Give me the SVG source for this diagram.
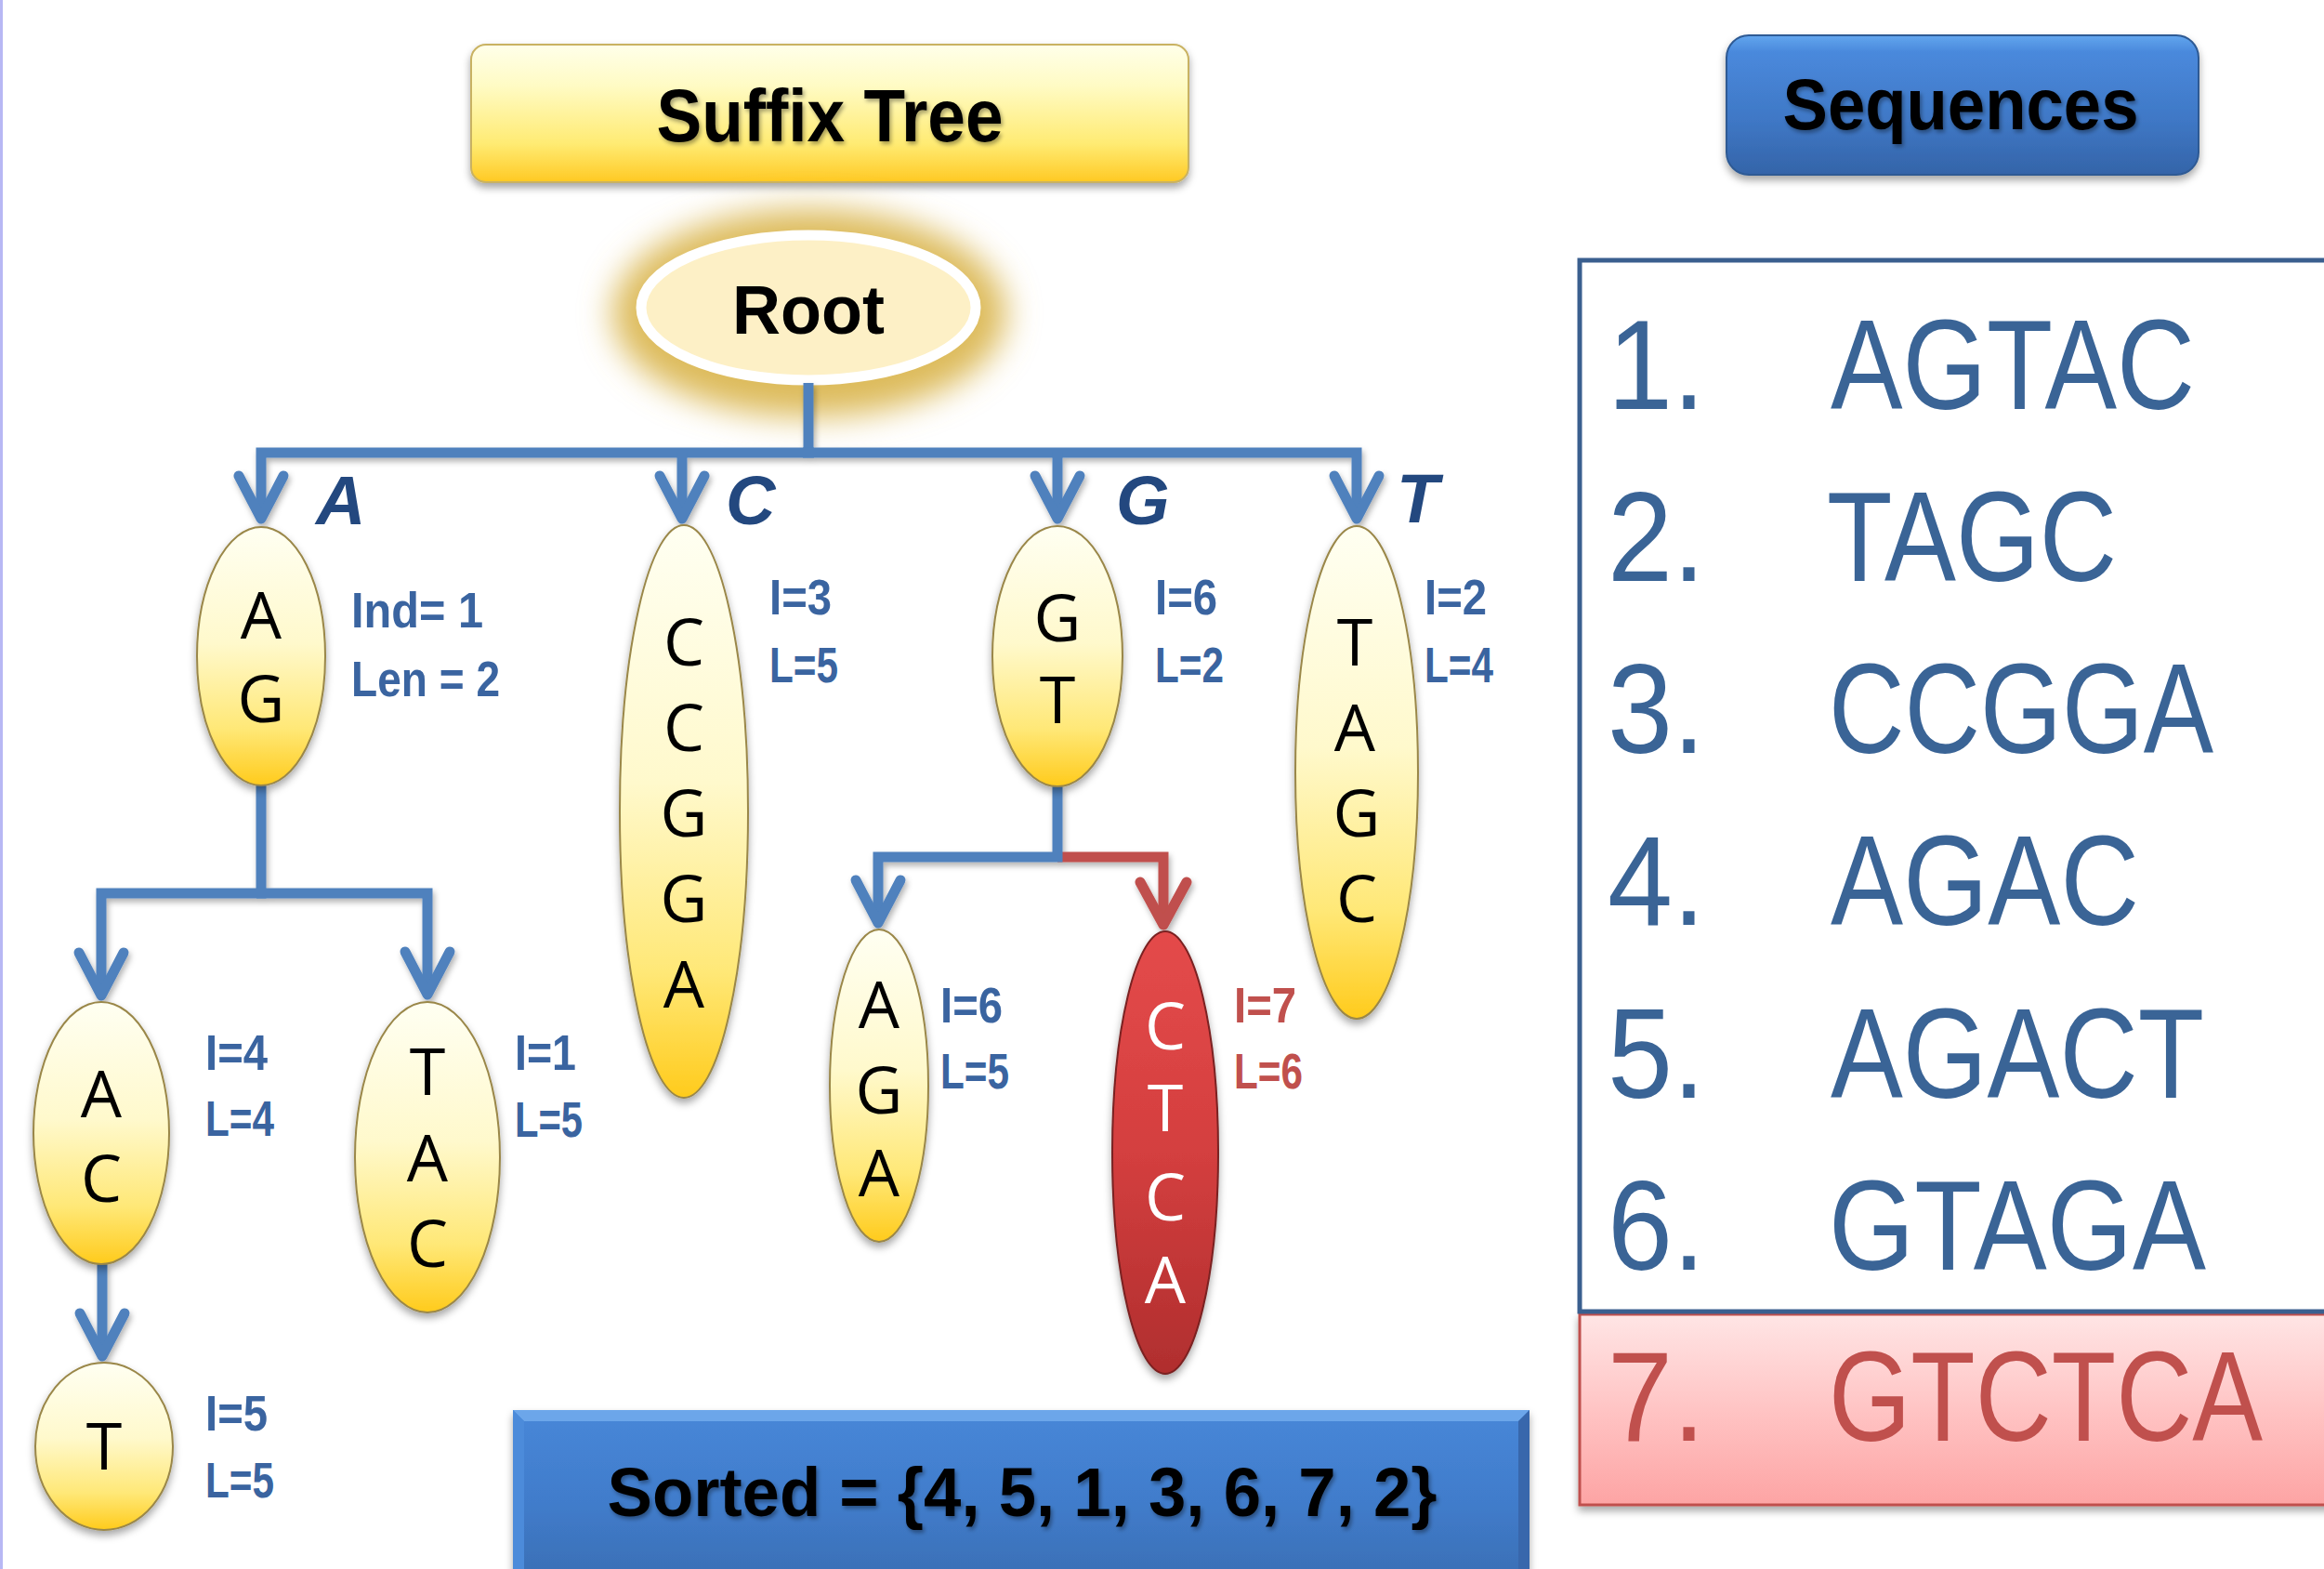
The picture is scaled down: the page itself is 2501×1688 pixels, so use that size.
<svg xmlns="http://www.w3.org/2000/svg" width="2501" height="1688" viewBox="0 0 2501 1688">
<defs>
<linearGradient id="gY" x1="0" y1="0" x2="0" y2="1">
<stop offset="0" stop-color="#FFFFF2"/>
<stop offset="0.45" stop-color="#FFF9CC"/>
<stop offset="0.78" stop-color="#FFE877"/>
<stop offset="1" stop-color="#FFCB1C"/>
</linearGradient>
<linearGradient id="gR" x1="0" y1="0" x2="0" y2="1">
<stop offset="0" stop-color="#E44A4A"/>
<stop offset="0.5" stop-color="#D43F3F"/>
<stop offset="1" stop-color="#B02E2E"/>
</linearGradient>
<linearGradient id="gTitle" x1="0" y1="0" x2="0" y2="1">
<stop offset="0" stop-color="#FFFFEA"/>
<stop offset="0.3" stop-color="#FFFBC4"/>
<stop offset="0.72" stop-color="#FFEB73"/>
<stop offset="1" stop-color="#FFC923"/>
</linearGradient>
<linearGradient id="gBlue" x1="0" y1="0" x2="0" y2="1">
<stop offset="0" stop-color="#62A6EE"/>
<stop offset="0.12" stop-color="#4A89DC"/>
<stop offset="0.6" stop-color="#3F78C6"/>
<stop offset="1" stop-color="#3464A8"/>
</linearGradient>
<linearGradient id="gSort" x1="0" y1="0" x2="0" y2="1">
<stop offset="0" stop-color="#4787D8"/>
<stop offset="0.5" stop-color="#417CCB"/>
<stop offset="1" stop-color="#386CB0"/>
</linearGradient>
<linearGradient id="gPink" x1="0" y1="0" x2="0" y2="1">
<stop offset="0" stop-color="#FFE5E5"/>
<stop offset="0.5" stop-color="#FFC4C4"/>
<stop offset="1" stop-color="#FDA4A4"/>
</linearGradient>
<filter id="shadow" x="-20%" y="-20%" width="140%" height="140%">
<feDropShadow dx="0" dy="5" stdDeviation="4" flood-color="#000" flood-opacity="0.35"/>
</filter>
<filter id="lshadow" x="-5%" y="-5%" width="110%" height="110%">
<feDropShadow dx="2" dy="4" stdDeviation="3" flood-color="#000" flood-opacity="0.3"/>
</filter>
<filter id="glow" x="-50%" y="-50%" width="200%" height="200%">
<feGaussianBlur stdDeviation="17"/>
</filter>
<filter id="tshadow" x="-10%" y="-20%" width="120%" height="140%">
<feDropShadow dx="2" dy="3" stdDeviation="2" flood-color="#000" flood-opacity="0.35"/>
</filter>
<marker id="arrB" markerUnits="userSpaceOnUse" orient="auto" refX="0" refY="0" overflow="visible">
<path d="M-46,-24 L0,0 L-46,24" fill="none" stroke="#4F81BD" stroke-width="11" stroke-linecap="round" stroke-linejoin="round"/>
</marker>
<marker id="arrR" markerUnits="userSpaceOnUse" orient="auto" refX="0" refY="0" overflow="visible">
<path d="M-46,-25 L0,0 L-46,25" fill="none" stroke="#C0504D" stroke-width="11" stroke-linecap="round" stroke-linejoin="round"/>
</marker>
</defs>
<style>
.node{fill:url(#gY);stroke:#9A8748;stroke-width:2;filter:url(#shadow)}
.nodeR{fill:url(#gR);stroke:#7A2020;stroke-width:2;filter:url(#shadow)}
.let{font-family:"Open Sans","Liberation Sans",sans-serif;font-size:70px;fill:#000;text-anchor:middle}
.letW{font-family:"Open Sans","Liberation Sans",sans-serif;font-size:70px;fill:#FFF;text-anchor:middle}
.lab{font-family:"Liberation Sans",Arial,sans-serif;font-weight:bold;font-size:54px;fill:#3A64A0}
.labR{font-family:"Liberation Sans",Arial,sans-serif;font-weight:bold;font-size:54px;fill:#C0504D}
.edge{font-family:"Liberation Sans",Arial,sans-serif;font-weight:bold;font-style:italic;font-size:74px;fill:#23487F}
.conn{fill:none;stroke:#4F81BD;stroke-width:11;stroke-linejoin:miter}
.connR{fill:none;stroke:#C0504D;stroke-width:11;stroke-linejoin:miter}
.title{font-family:"Liberation Sans",Arial,sans-serif;font-weight:bold;fill:#000;text-anchor:middle}
.seq{font-family:"Liberation Sans",Arial,sans-serif;font-size:138px;fill:#3A6496}
.seqR{font-family:"Liberation Sans",Arial,sans-serif;font-size:138px;fill:#C0504D}
</style>
<rect x="0" y="0" width="2501" height="1688" fill="#FFFFFF"/>
<rect x="0" y="0" width="3" height="1688" fill="#B8B8F4"/>

<g id="title-suffix-tree">
<rect x="507" y="48" width="772" height="148" rx="16" fill="url(#gTitle)" stroke="#C9B262" stroke-width="2" filter="url(#shadow)"/>
<text class="title" x="893" y="152" font-size="80" textLength="373" lengthAdjust="spacingAndGlyphs" filter="url(#tshadow)">Suffix Tree</text>
</g>

<g id="title-sequences">
<rect x="1858" y="38" width="508" height="150" rx="24" fill="url(#gBlue)" stroke="#2E5A94" stroke-width="2" filter="url(#shadow)"/>
<text class="title" x="2110" y="139" font-size="78" textLength="383" lengthAdjust="spacingAndGlyphs" filter="url(#tshadow)">Sequences</text>
</g>

<g id="root">
<ellipse cx="871" cy="337" rx="212" ry="112" fill="#DDBB5C" filter="url(#glow)"/>
<ellipse cx="870" cy="331" rx="180" ry="78" fill="#FDF0C6" stroke="#FFFFFF" stroke-width="11"/>
<text class="title" x="870" y="359" font-size="75" textLength="164" lengthAdjust="spacingAndGlyphs">Root</text>
</g>

<g id="connectors" filter="url(#lshadow)">
<path class="conn" d="M870,412 V487"/>
<path class="conn" d="M876,487 H281 V558" marker-end="url(#arrB)"/>
<path class="conn" d="M864,487 H1460 V558" marker-end="url(#arrB)"/>
<path class="conn" d="M734,487 V558" marker-end="url(#arrB)"/>
<path class="conn" d="M1138,487 V558" marker-end="url(#arrB)"/>
<path class="conn" d="M281,845 V961 H109 V1071" marker-end="url(#arrB)"/>
<path class="conn" d="M276,961 H460 V1070" marker-end="url(#arrB)"/>
<path class="conn" d="M110,1360 V1459" marker-end="url(#arrB)"/>
<path class="connR" d="M1138,922 H1252 V995" marker-end="url(#arrR)"/>
<path class="conn" d="M1138,846 V922 H945 V993" marker-end="url(#arrB)"/>
</g>

<g id="edge-labels">
<text class="edge" x="340" y="564">A</text>
<text class="edge" x="781" y="564">C</text>
<text class="edge" x="1201" y="564">G</text>
<text class="edge" x="1503" y="562">T</text>
</g>

<g id="node-AG">
<ellipse class="node" cx="281" cy="706" rx="69" ry="139"/>
<text class="let" x="281" y="687">A</text>
<text class="let" x="281" y="777">G</text>
<text class="lab" x="378" y="675" textLength="142" lengthAdjust="spacingAndGlyphs">Ind= 1</text>
<text class="lab" x="378" y="749" textLength="160" lengthAdjust="spacingAndGlyphs">Len = 2</text>
</g>

<g id="node-AC">
<ellipse class="node" cx="109" cy="1219" rx="73" ry="141"/>
<text class="let" x="109" y="1202">A</text>
<text class="let" x="109" y="1293">C</text>
<text class="lab" x="221" y="1151" textLength="67" lengthAdjust="spacingAndGlyphs">I=4</text>
<text class="lab" x="221" y="1222" textLength="74" lengthAdjust="spacingAndGlyphs">L=4</text>
</g>

<g id="node-TAC">
<ellipse class="node" cx="460" cy="1245" rx="78" ry="167"/>
<text class="let" x="460" y="1178">T</text>
<text class="let" x="460" y="1271">A</text>
<text class="let" x="460" y="1363">C</text>
<text class="lab" x="554" y="1151" textLength="66" lengthAdjust="spacingAndGlyphs">I=1</text>
<text class="lab" x="554" y="1223" textLength="73" lengthAdjust="spacingAndGlyphs">L=5</text>
</g>

<g id="node-T">
<ellipse class="node" cx="112" cy="1556" rx="74" ry="90"/>
<text class="let" x="112" y="1581">T</text>
<text class="lab" x="221" y="1539" textLength="67" lengthAdjust="spacingAndGlyphs">I=5</text>
<text class="lab" x="221" y="1611" textLength="74" lengthAdjust="spacingAndGlyphs">L=5</text>
</g>

<g id="node-CCGGA">
<ellipse class="node" cx="736" cy="873" rx="69" ry="308"/>
<text class="let" x="736" y="716">C</text>
<text class="let" x="736" y="808">C</text>
<text class="let" x="736" y="900">G</text>
<text class="let" x="736" y="992">G</text>
<text class="let" x="736" y="1084">A</text>
<text class="lab" x="828" y="661" textLength="67" lengthAdjust="spacingAndGlyphs">I=3</text>
<text class="lab" x="828" y="734" textLength="74" lengthAdjust="spacingAndGlyphs">L=5</text>
</g>

<g id="node-GT">
<ellipse class="node" cx="1138" cy="706" rx="70" ry="140"/>
<text class="let" x="1138" y="690">G</text>
<text class="let" x="1138" y="778">T</text>
<text class="lab" x="1243" y="661" textLength="67" lengthAdjust="spacingAndGlyphs">I=6</text>
<text class="lab" x="1243" y="734" textLength="74" lengthAdjust="spacingAndGlyphs">L=2</text>
</g>

<g id="node-TAGC">
<ellipse class="node" cx="1460" cy="831" rx="66" ry="265"/>
<text class="let" x="1458" y="716">T</text>
<text class="let" x="1458" y="808">A</text>
<text class="let" x="1460" y="900">G</text>
<text class="let" x="1460" y="992">C</text>
<text class="lab" x="1533" y="661" textLength="67" lengthAdjust="spacingAndGlyphs">I=2</text>
<text class="lab" x="1533" y="734" textLength="74" lengthAdjust="spacingAndGlyphs">L=4</text>
</g>

<g id="node-AGA">
<ellipse class="node" cx="946" cy="1168" rx="53" ry="168"/>
<text class="let" x="946" y="1106">A</text>
<text class="let" x="946" y="1198">G</text>
<text class="let" x="946" y="1287">A</text>
<text class="lab" x="1012" y="1100" textLength="67" lengthAdjust="spacingAndGlyphs">I=6</text>
<text class="lab" x="1012" y="1171" textLength="74" lengthAdjust="spacingAndGlyphs">L=5</text>
</g>

<g id="node-CTCA">
<ellipse class="nodeR" cx="1254" cy="1240" rx="57" ry="238"/>
<text class="letW" x="1254" y="1129">C</text>
<text class="letW" x="1254" y="1217">T</text>
<text class="letW" x="1254" y="1313">C</text>
<text class="letW" x="1254" y="1402">A</text>
<text class="labR" x="1328" y="1100" textLength="67" lengthAdjust="spacingAndGlyphs">I=7</text>
<text class="labR" x="1328" y="1171" textLength="74" lengthAdjust="spacingAndGlyphs">L=6</text>
</g>

<g id="sorted">
<rect x="552" y="1517" width="1094" height="200" fill="url(#gSort)" filter="url(#shadow)"/>
<polygon points="552,1517 1646,1517 1634,1529 564,1529" fill="#6CA6EA"/>
<polygon points="552,1517 564,1529 564,1688 552,1688" fill="#4C8BDA"/>
<polygon points="1646,1517 1646,1688 1634,1688 1634,1529" fill="#3867AC"/>
<text class="title" x="1100" y="1631" font-size="75" textLength="893" lengthAdjust="spacingAndGlyphs" filter="url(#tshadow)">Sorted = {4, 5, 1, 3, 6, 7, 2}</text>
</g>

<g id="sequence-list">
<rect x="1700" y="1414" width="900" height="205" fill="url(#gPink)" stroke="#C0504D" stroke-width="3" filter="url(#shadow)"/>
<rect x="1700" y="280" width="900" height="1131" fill="#FFFFFF" stroke="#3A5F8F" stroke-width="5"/>
<text class="seq" x="1730" y="440" textLength="105" lengthAdjust="spacingAndGlyphs">1.</text>
<text class="seq" x="1970" y="440" textLength="392" lengthAdjust="spacingAndGlyphs">AGTAC</text>
<text class="seq" x="1730" y="625" textLength="105" lengthAdjust="spacingAndGlyphs">2.</text>
<text class="seq" x="1966" y="625" textLength="312" lengthAdjust="spacingAndGlyphs">TAGC</text>
<text class="seq" x="1730" y="810" textLength="105" lengthAdjust="spacingAndGlyphs">3.</text>
<text class="seq" x="1968" y="810" textLength="414" lengthAdjust="spacingAndGlyphs">CCGGA</text>
<text class="seq" x="1730" y="995" textLength="105" lengthAdjust="spacingAndGlyphs">4.</text>
<text class="seq" x="1970" y="995" textLength="332" lengthAdjust="spacingAndGlyphs">AGAC</text>
<text class="seq" x="1730" y="1181" textLength="105" lengthAdjust="spacingAndGlyphs">5.</text>
<text class="seq" x="1970" y="1181" textLength="402" lengthAdjust="spacingAndGlyphs">AGACT</text>
<text class="seq" x="1730" y="1366" textLength="105" lengthAdjust="spacingAndGlyphs">6.</text>
<text class="seq" x="1968" y="1366" textLength="406" lengthAdjust="spacingAndGlyphs">GTAGA</text>
<text class="seqR" x="1730" y="1550" textLength="105" lengthAdjust="spacingAndGlyphs">7.</text>
<text class="seqR" x="1968" y="1550" textLength="467" lengthAdjust="spacingAndGlyphs">GTCTCA</text>
</g>
</svg>
